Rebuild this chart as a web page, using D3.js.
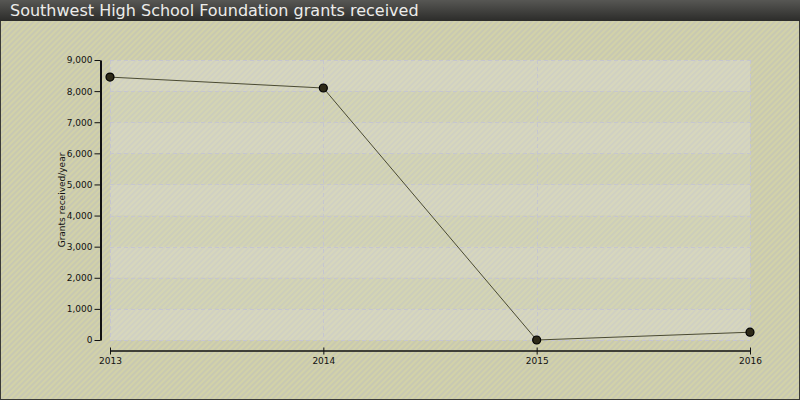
<!DOCTYPE html>
<html><head><meta charset="utf-8">
<script src="https://cdn.jsdelivr.net/npm/d3@7/dist/d3.min.js"></script>
<style>body{margin:0;padding:0;overflow:hidden}svg{display:block}</style>
</head><body>
<script>
const title = "Southwest High School Foundation grants received";
const yAxisTitle = "Grants received/year";
const years = [2013, 2014, 2015, 2016];
const grants = [8450, 8100, 0, 250];
const yTicks = [0,1000,2000,3000,4000,5000,6000,7000,8000,9000];

const W = 800, H = 400;
const svg = d3.select("body").append("svg").attr("width", W).attr("height", H);
const defs = svg.append("defs");

const pat = defs.append("pattern").attr("id","hatch").attr("patternUnits","userSpaceOnUse")
  .attr("width",4).attr("height",4).attr("patternTransform","rotate(45)");
pat.append("rect").attr("width",4).attr("height",4).attr("fill","#c8c8b2");
pat.append("rect").attr("width",2).attr("height",4).attr("fill","#d2d2a8");

const tg = defs.append("linearGradient").attr("id","tbar").attr("x1",0).attr("y1",0).attr("x2",0).attr("y2",1);
tg.append("stop").attr("offset","0%").attr("stop-color","#575754");
tg.append("stop").attr("offset","100%").attr("stop-color","#2c2c2a");

svg.append("rect").attr("width",W).attr("height",H).attr("fill","url(#hatch)");
// outer border
svg.append("rect").attr("x",0.5).attr("y",0.5).attr("width",W-1).attr("height",H-1)
  .attr("fill","none").attr("stroke","#3a3a36").attr("stroke-width",1);

// title bar
svg.append("rect").attr("x",0).attr("y",0).attr("width",W).attr("height",21).attr("fill","url(#tbar)");
svg.append("text").attr("x",10).attr("y",16).attr("font-family","DejaVu Sans")
  .attr("font-size",16).attr("fill","#ececea").text(title);

const x = d3.scaleLinear().domain([2013,2016]).range([110,750]);
const y = d3.scaleLinear().domain([0,9000]).range([340,60]);

// plot area bands
const bands = yTicks.slice(0,-1);
svg.append("g").selectAll("rect").data(bands).join("rect")
  .attr("x", x(2013)).attr("width", x(2016)-x(2013))
  .attr("y", d => y(d+1000)).attr("height", d => y(d)-y(d+1000))
  .attr("fill","#e4e6ea").attr("fill-opacity", (d,i) => i%2===0 ? 0.3 : 0.17);

// grid lines
const grid = svg.append("g").attr("stroke","#c6c6cf").attr("stroke-width",1).attr("stroke-dasharray","4,3");
grid.selectAll("line.h").data(yTicks).join("line").attr("class","h")
  .attr("x1",x(2013)).attr("x2",x(2016)).attr("y1",d=>Math.round(y(d))+0.5).attr("y2",d=>Math.round(y(d))+0.5);
grid.selectAll("line.v").data(years).join("line").attr("class","v")
  .attr("y1",y(9000)).attr("y2",y(0)).attr("x1",d=>Math.round(x(d))+0.5).attr("x2",d=>Math.round(x(d))+0.5);

// y axis
const yAxis = d3.axisLeft(y).tickValues(yTicks).tickSize(6).tickSizeOuter(0).tickPadding(2)
  .tickFormat(d3.format(","));
const gy = svg.append("g").attr("transform","translate(100.5,0)").call(yAxis);
gy.select(".domain").attr("stroke","#111").attr("stroke-width",2);
gy.selectAll(".tick line").attr("stroke","#111").attr("stroke-width",1);
gy.selectAll("text").attr("font-family","DejaVu Sans").attr("font-size",9).attr("fill","#111");

// x axis
const xAxis = d3.axisBottom(x).tickValues(years).tickSize(4).tickSizeOuter(0).tickPadding(3).tickFormat(d3.format("d"));
const gx = svg.append("g").attr("transform","translate(0,350.5)").call(xAxis);
gx.select(".domain").attr("stroke","#111").attr("stroke-width",1.5);
gx.selectAll(".tick line").attr("stroke","#111").attr("y1",-3);
gx.selectAll("text").attr("font-family","DejaVu Sans").attr("font-size",9).attr("fill","#111");

// y axis title
svg.append("text").attr("transform","translate(65,200) rotate(-90)").attr("text-anchor","middle")
  .attr("font-family","DejaVu Sans").attr("font-size",9).attr("fill","#111").text(yAxisTitle);

// line
const pts = years.map((yr,i)=>({yr, v: grants[i]}));
svg.append("path").datum(pts)
  .attr("d", d3.line().x(d=>x(d.yr)).y(d=>y(d.v)))
  .attr("fill","none").attr("stroke","#4a4a32").attr("stroke-width",1);
svg.append("g").selectAll("circle").data(pts).join("circle")
  .attr("cx",d=>x(d.yr)).attr("cy",d=>y(d.v)).attr("r",4)
  .attr("fill","#2e2a18").attr("stroke","#000").attr("stroke-width",1.2);
</script>
</body></html>
